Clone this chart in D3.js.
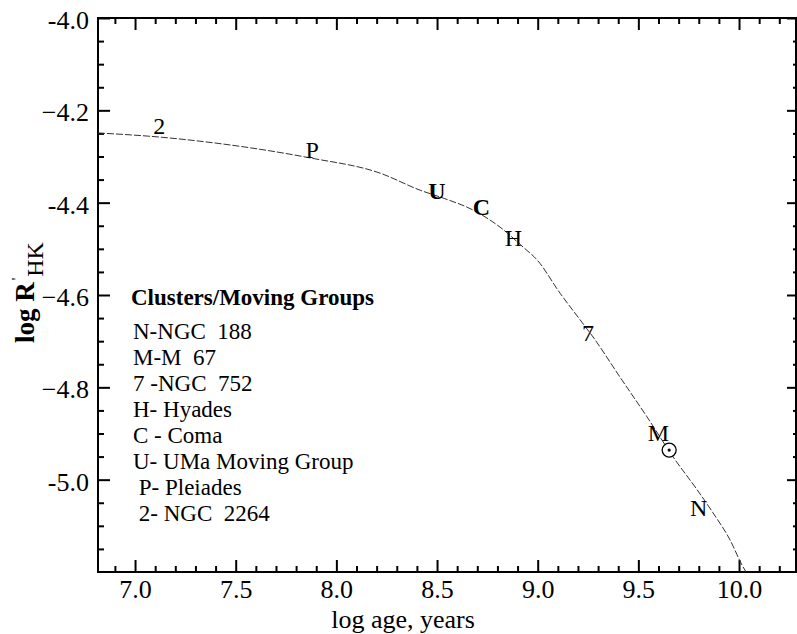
<!DOCTYPE html>
<html>
<head>
<meta charset="utf-8">
<script src="https://cdn.jsdelivr.net/npm/d3@7"></script>
<style>
  body { margin: 0; background: #fff; }
</style>
</head>
<body>
<div id="chart"></div>
<script>
// activity-age relation
var logAge = [6.816, 7.124, 7.472, 7.869, 8.217, 8.416, 8.530, 8.679, 8.813, 8.927, 8.997, 9.111, 9.211, 9.275, 9.409, 9.543, 9.673, 9.792, 9.871, 9.956, 10.015, 10.035];
var logRhk = [-4.249, -4.258, -4.275, -4.303, -4.336, -4.373, -4.390, -4.416, -4.453, -4.496, -4.524, -4.596, -4.654, -4.691, -4.778, -4.864, -4.951, -5.022, -5.072, -5.131, -5.185, -5.200];

// cluster letters placed along the curve
var clusterKey = ["2", "P", "U", "C", "H", "7", "M", "N"];
var clusterAge = [7.12, 7.88, 8.50, 8.72, 8.88, 9.25, 9.60, 9.80];
var clusterRhk = [-4.232, -4.286, -4.373, -4.409, -4.476, -4.682, -4.899, -5.061];
var clusterBold = [false, false, true, true, false, false, false, false];

// the Sun
var sunAge = 9.653, sunRhk = -4.936;

var legendTitle = "Clusters/Moving Groups";
var legendItems = ["N-NGC  188", "M-M  67", "7 -NGC  752", "H- Hyades", "C - Coma", "U- UMa Moving Group", " P- Pleiades", " 2- NGC  2264"];

var xTicks = [7.0, 7.5, 8.0, 8.5, 9.0, 9.5, 10.0];
var xTickLabels = ["7.0", "7.5", "8.0", "8.5", "9.0", "9.5", "10.0"];
var yTicks = [-4.0, -4.2, -4.4, -4.6, -4.8, -5.0];
var yTickLabels = ["-4.0", "\u22124.2", "-4.4", "\u22124.6", "\u22124.8", "-5.0"];

var serif = "'Liberation Serif', 'Times New Roman', serif";
var width = 797, height = 634;
var margin = {top: 18, right: 1, bottom: 62, left: 98};

var svg = d3.select("#chart").append("svg")
    .attr("width", width)
    .attr("height", height)
    .style("font-family", serif);

var x = d3.scaleLinear().domain([6.816, 10.283]).range([margin.left, width - margin.right]);
var y = d3.scaleLinear().domain([-4.0, -5.2]).range([margin.top, height - margin.bottom]);

var xMinor = d3.range(6.9, 10.29, 0.1).filter(v => Math.abs(v * 2 - Math.round(v * 2)) > 0.01);
var yMinor = d3.range(-4.05, -5.21, -0.05).filter(v => Math.abs(v * 5 - Math.round(v * 5)) > 0.01);

// axes, ticks inward
function tickGroup(axis, tx, ty) {
  var g = svg.append("g").attr("transform", "translate(" + tx + "," + ty + ")").call(axis);
  g.attr("font-family", null);
  g.select(".domain").remove();
  g.selectAll("line").attr("stroke", "#000").attr("stroke-width", 2);
  g.selectAll("text").style("font-family", serif).attr("fill", "#000");
  return g;
}

var bottom = tickGroup(d3.axisBottom(x).tickValues(xTicks).tickSize(-12).tickPadding(5)
    .tickFormat((d, i) => xTickLabels[i]), 0, y.range()[1]);
bottom.selectAll("text").attr("font-size", 26).attr("dy", "0.8em");
tickGroup(d3.axisBottom(x).tickValues(xMinor).tickSize(-6).tickFormat(""), 0, y.range()[1]);

tickGroup(d3.axisTop(x).tickValues(xTicks).tickSize(-12).tickFormat(""), 0, margin.top);
tickGroup(d3.axisTop(x).tickValues(xMinor).tickSize(-6).tickFormat(""), 0, margin.top);

var left = tickGroup(d3.axisLeft(y).tickValues(yTicks).tickSize(-12).tickPadding(9)
    .tickFormat((d, i) => yTickLabels[i]), margin.left, 0);
left.selectAll("text").attr("font-size", 26).attr("dy", "0.4em");
tickGroup(d3.axisLeft(y).tickValues(yMinor).tickSize(-6).tickFormat(""), margin.left, 0);

tickGroup(d3.axisRight(y).tickValues(yTicks).tickSize(-9).tickFormat(""), width - margin.right, 0);
tickGroup(d3.axisRight(y).tickValues(yMinor).tickSize(-3).tickFormat(""), width - margin.right, 0);

// frame
svg.append("rect")
    .attr("x", margin.left).attr("y", margin.top)
    .attr("width", width - margin.right - margin.left)
    .attr("height", y.range()[1] - margin.top)
    .attr("fill", "none").attr("stroke", "#000").attr("stroke-width", 2);

// curve
var line = d3.line().x((d, i) => x(logAge[i])).y((d, i) => y(logRhk[i])).curve(d3.curveMonotoneX);
svg.append("path")
    .datum(logAge)
    .attr("d", line)
    .attr("fill", "none")
    .attr("stroke", "#333")
    .attr("stroke-width", 1)
    .attr("stroke-dasharray", "7,2");

// cluster letters
svg.append("g").selectAll("text").data(clusterKey).enter().append("text")
    .attr("x", (d, i) => x(clusterAge[i]))
    .attr("y", (d, i) => y(clusterRhk[i]))
    .attr("dy", "0.35em")
    .attr("text-anchor", "middle")
    .attr("font-size", 24)
    .attr("font-weight", (d, i) => clusterBold[i] ? "bold" : "normal")
    .text(d => d);

// sun symbol
var sun = svg.append("g").attr("transform", "translate(" + x(sunAge) + "," + y(sunRhk) + ")");
sun.append("circle").attr("r", 7).attr("fill", "#fff").attr("stroke", "#000").attr("stroke-width", 1.3);
sun.append("circle").attr("r", 1.6).attr("fill", "#000");

// legend
var leg = svg.append("g").attr("transform", "translate(131,0)");
leg.append("text").attr("x", 0).attr("y", 305)
    .attr("font-size", 23).attr("font-weight", "bold")
    .text(legendTitle);
leg.selectAll("text.item").data(legendItems).enter().append("text")
    .attr("class", "item")
    .attr("x", 2)
    .attr("y", (d, i) => 339 + i * 26)
    .attr("font-size", 23)
    .style("white-space", "pre")
    .text(d => d);

// axis titles
svg.append("text")
    .attr("x", 403).attr("y", 628)
    .attr("text-anchor", "middle")
    .attr("font-size", 26)
    .text("log age, years");

var yt = svg.append("text")
    .attr("transform", "translate(34,343) rotate(-90)")
    .attr("font-size", 27)
    .attr("font-weight", "bold");
yt.append("tspan").text("log R");
yt.append("tspan").attr("font-size", 14).attr("font-weight", "normal").attr("dy", -12).attr("dx", 2).text("'");
yt.append("tspan").attr("font-size", 24).attr("font-weight", "normal").attr("dy", 21).attr("dx", 1).text("HK");
</script>
</body>
</html>
